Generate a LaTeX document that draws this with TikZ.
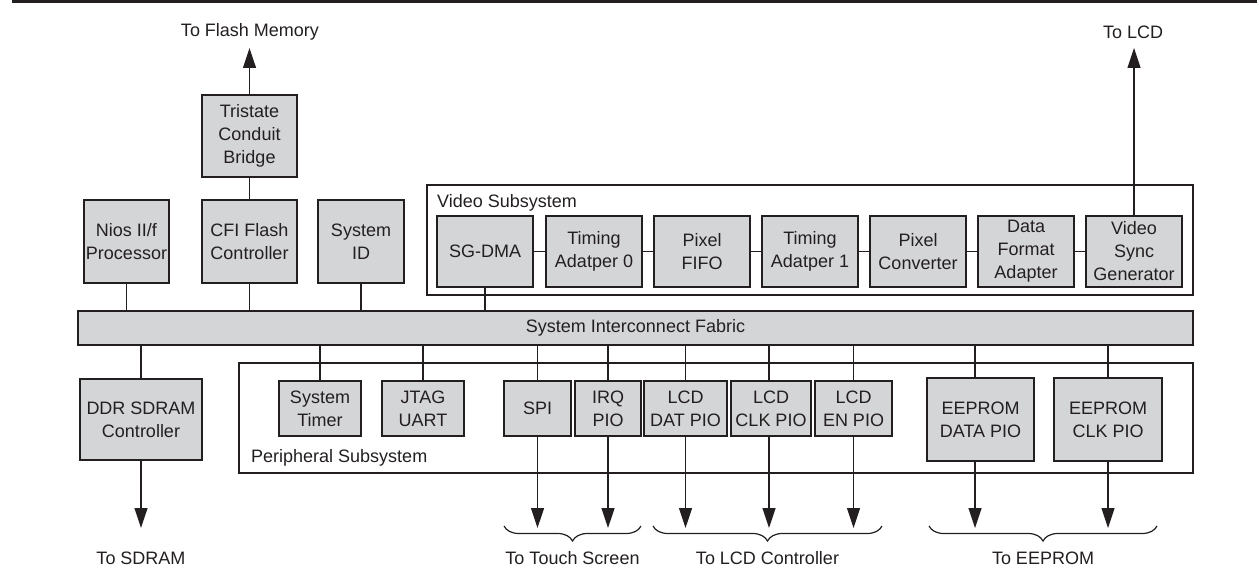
\documentclass[tikz,border=0pt]{standalone}
\usepackage{fontspec}
\setmainfont{Liberation Sans}
\usetikzlibrary{arrows.meta,decorations.pathreplacing}
\definecolor{boxgray}{RGB}{212,213,215}
\definecolor{ink}{RGB}{35,31,32}
\begin{document}
\begin{tikzpicture}[x=1pt,y=-1pt,
  blk/.style={draw=ink,line width=1.5pt,fill=boxgray,inner sep=0pt,align=center,
              font=\fontsize{18}{23}\selectfont,text=ink},
  frame/.style={draw=ink,line width=1.5pt,fill=none,inner sep=0pt},
  wire/.style={draw=ink,line width=1.2pt},
  arr/.style={wire,-{Triangle[width=13pt,length=20pt]}},
  lbl/.style={font=\fontsize{18}{23}\selectfont,text=ink,inner sep=0pt},
  brc/.style={draw=ink,line width=1.2pt,decorate,decoration={brace,mirror,amplitude=15pt}}]
\useasboundingbox (0,0) rectangle (1257,583);

% top rule
\coordinate (ruleL) at (12,2);
\coordinate (ruleR) at (1257,2);
\draw[ink,line width=3pt] (ruleL) -- (ruleR);

% containers
\node[frame,minimum width=766pt,minimum height=110pt] (vid) at (810,240) {};
\node[lbl,anchor=west] (vidlbl) at (437,203) {Video Subsystem};
\node[frame,minimum width=954pt,minimum height=110pt] (per) at (716,418) {};
\node[lbl,anchor=west] (perlbl) at (251,458) {Peripheral Subsystem};

% fabric
\node[blk,minimum width=1115pt,minimum height=34pt] (fab) at (635.5,328) {System Interconnect Fabric};

% upper-left blocks
\node[blk,minimum width=95pt,minimum height=82pt] (tcb) at (249.5,136) {Tristate\\Conduit\\Bridge};
\node[blk,minimum width=85pt,minimum height=83pt] (nios) at (126.5,241.5) {Nios II/f\\Processor};
\node[blk,minimum width=95pt,minimum height=83pt] (cfi) at (249.5,241.5) {CFI Flash\\Controller};
\node[blk,minimum width=86pt,minimum height=83pt] (sid) at (361,241.5) {System\\ID};

% video blocks
\node[blk,minimum width=96pt,minimum height=71pt] (sgdma) at (485,251.5) {SG-DMA};
\node[blk,minimum width=96pt,minimum height=71pt] (ta0) at (594,251.5) {Timing\\Adatper 0};
\node[blk,minimum width=96pt,minimum height=71pt] (pfifo) at (702,251.5) {Pixel\\FIFO};
\node[blk,minimum width=96pt,minimum height=71pt] (ta1) at (810,251.5) {Timing\\Adatper 1};
\node[blk,minimum width=96pt,minimum height=71pt] (pconv) at (918,251.5) {Pixel\\Converter};
\node[blk,minimum width=96pt,minimum height=71pt] (dfa) at (1026,251.5) {Data\\Format\\Adapter};
\node[blk,minimum width=96pt,minimum height=71pt] (vsg) at (1134,251.5) {Video\\Sync\\Generator};

% lower blocks
\node[blk,minimum width=122pt,minimum height=81pt] (ddr) at (141,419.5) {DDR SDRAM\\Controller};
\node[blk,minimum width=82pt,minimum height=55pt] (stim) at (320,408.5) {System\\Timer};
\node[blk,minimum width=82pt,minimum height=55pt] (jtag) at (423,408.5) {JTAG\\UART};
\node[blk,minimum width=67pt,minimum height=55pt] (spi) at (537.5,408.5) {SPI};
\node[blk,minimum width=66pt,minimum height=55pt] (irq) at (608,408.5) {IRQ\\PIO};
\node[blk,minimum width=83pt,minimum height=55pt] (ldat) at (685.5,408.5) {LCD\\DAT PIO};
\node[blk,minimum width=80pt,minimum height=55pt] (lclk) at (771,408.5) {LCD\\CLK PIO};
\node[blk,minimum width=77pt,minimum height=55pt] (len) at (853.5,408.5) {LCD\\EN PIO};
\node[blk,minimum width=107pt,minimum height=83pt] (eed) at (980.5,419.5) {EEPROM\\DATA PIO};
\node[blk,minimum width=108pt,minimum height=83pt] (eec) at (1108,419.5) {EEPROM\\CLK PIO};

% top outputs
\node[lbl] (tflash) at (250,32) {To Flash Memory};
\node[lbl] (tlcd) at (1133,32) {To LCD};
\coordinate (flashtip) at (249.5,48);
\coordinate (lcdtip) at (1134,48);
\draw[arr] (tcb.north) -- (flashtip);
\draw[arr] (vsg.north) -- (lcdtip);
\draw[wire] (tcb.south) -- (cfi.north);

% connections to fabric (above)
\draw[wire] (nios.south) -- (nios.south |- fab.north);
\draw[wire] (cfi.south) -- (cfi.south |- fab.north);
\draw[wire] (sid.south) -- (sid.south |- fab.north);
\draw[wire] (sgdma.south) -- (sgdma.south |- fab.north);

% video chain
\draw[wire] (sgdma.east) -- (ta0.west);
\draw[wire] (ta0.east) -- (pfifo.west);
\draw[wire] (pfifo.east) -- (ta1.west);
\draw[wire] (ta1.east) -- (pconv.west);
\draw[wire] (pconv.east) -- (dfa.west);
\draw[wire] (dfa.east) -- (vsg.west);

% connections to fabric (below)
\draw[wire] (fab.south -| ddr.north) -- (ddr.north);
\draw[wire] (fab.south -| stim.north) -- (stim.north);
\draw[wire] (fab.south -| jtag.north) -- (jtag.north);
\draw[wire] (fab.south -| spi.north) -- (spi.north);
\draw[wire] (fab.south -| irq.north) -- (irq.north);
\draw[wire] (fab.south -| ldat.north) -- (ldat.north);
\draw[wire] ([xshift=-2pt]fab.south -| lclk.north) -- ([xshift=-2pt]lclk.north);
\draw[wire] (fab.south -| len.north) -- (len.north);
\draw[wire] ([xshift=-5.5pt]fab.south -| eed.north) -- ([xshift=-5.5pt]eed.north);
\draw[wire] (fab.south -| eec.north) -- (eec.north);

% outputs downwards
\coordinate (low) at (0,528);
\draw[arr] (ddr.south) -- (ddr.south |- low);
\draw[arr] (spi.south) -- (spi.south |- low);
\draw[arr] (irq.south) -- (irq.south |- low);
\draw[arr] (ldat.south) -- (ldat.south |- low);
\draw[arr] ([xshift=-2pt]lclk.south) -- ([xshift=-2pt]lclk.south |- low);
\draw[arr] (len.south) -- (len.south |- low);
\draw[arr] ([xshift=-5.5pt]eed.south) -- ([xshift=-5.5pt]eed.south |- low);
\draw[arr] (eec.south) -- (eec.south |- low);

% braces
\coordinate (b1l) at (504,526); \coordinate (b1r) at (641,526);
\coordinate (b2l) at (653,526); \coordinate (b2r) at (882,526);
\coordinate (b3l) at (929,526); \coordinate (b3r) at (1157,526);
\draw[brc] (b1l) -- (b1r);
\draw[brc] (b2l) -- (b2r);
\draw[brc] (b3l) -- (b3r);

% bottom labels
\node[lbl] (tsdram) at (141,558) {To SDRAM};
\node[lbl] (ttouch) at (572.5,558) {To Touch Screen};
\node[lbl] (tlcdc) at (767.5,558) {To LCD Controller};
\node[lbl] (teep) at (1043,558) {To EEPROM};
\end{tikzpicture}
\end{document}
